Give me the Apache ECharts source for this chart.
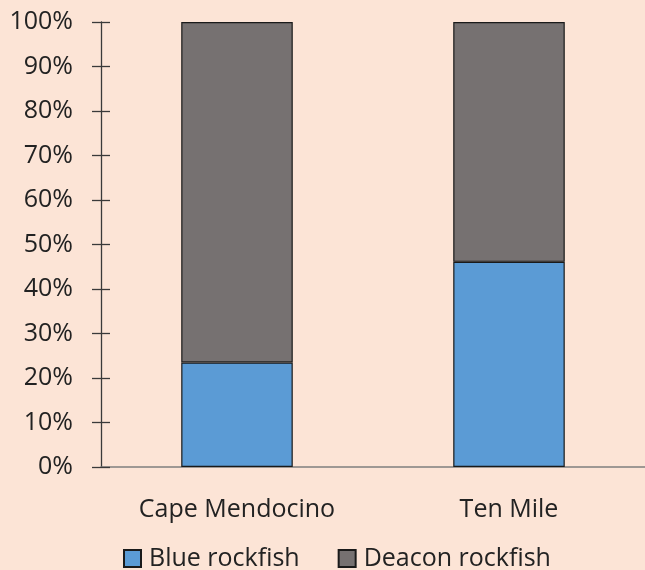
<!DOCTYPE html>
<html>
<head>
<meta charset="utf-8">
<script src="https://cdn.jsdelivr.net/npm/echarts@6/dist/echarts.min.js"></script>
<style>
  html, body { margin: 0; padding: 0; background: #fce4d6; }
  #chart { width: 645px; height: 570px; }
</style>
</head>
<body>
<div id="chart"></div>
<script>
// Species share of catch at two sites (percent)
const sites = ['Cape Mendocino', 'Ten Mile'];
const blueRockfish = [23.5, 46.1];
const deaconRockfish = [76.5, 53.9];
const yTicks = [0, 10, 20, 30, 40, 50, 60, 70, 80, 90, 100];

const chart = echarts.init(document.getElementById('chart'));
const font = '"Open Sans", "Noto Sans", sans-serif';
const textColor = '#222222';
const axisColor = '#3a3a3a';

chart.setOption({
  backgroundColor: '#fce4d6',
  animation: false,
  grid: { left: 101, right: -4, top: 22, bottom: 103 },
  legend: {
    top: 541,
    left: 118,
    itemWidth: 17,
    itemHeight: 17,
    itemGap: 38,
    icon: 'rect',
    textStyle: { fontFamily: font, fontSize: 25, color: textColor, padding: [0, 0, 0, 3] },
    data: ['Blue rockfish', 'Deacon rockfish']
  },
  xAxis: {
    type: 'category',
    data: sites,
    axisLine: { lineStyle: { color: '#7f7f7f', width: 1.5 } },
    axisTick: { show: false },
    axisLabel: { fontFamily: font, fontSize: 25, color: textColor, margin: 30 }
  },
  yAxis: [{
    type: 'value',
    min: yTicks[0],
    max: yTicks[yTicks.length - 1],
    interval: 10,
    splitLine: { show: false },
    axisLine: { show: true, lineStyle: { color: axisColor, width: 1.3 } },
    axisTick: { show: true, length: 9, lineStyle: { color: axisColor, width: 1.3 } },
    axisLabel: { fontFamily: font, fontSize: 25, color: textColor, margin: 28, formatter: v => v + '%' }
  }, {
    // inner half of the crossing tick marks
    type: 'value',
    position: 'left',
    min: yTicks[0],
    max: yTicks[yTicks.length - 1],
    interval: 10,
    splitLine: { show: false },
    axisLine: { show: false },
    axisTick: { show: true, inside: true, length: 9, lineStyle: { color: axisColor, width: 1.3 } },
    axisLabel: { show: false }
  }],
  series: [{
    name: 'Blue rockfish',
    type: 'bar',
    stack: 'share',
    barWidth: '41%',
    data: blueRockfish,
    itemStyle: { color: '#5b9bd5', borderColor: '#1a1a1a', borderWidth: 1.2 }
  }, {
    name: 'Deacon rockfish',
    type: 'bar',
    stack: 'share',
    barWidth: '41%',
    data: deaconRockfish,
    itemStyle: { color: '#767171', borderColor: '#1a1a1a', borderWidth: 1.2 }
  }]
});
</script>
</body>
</html>
